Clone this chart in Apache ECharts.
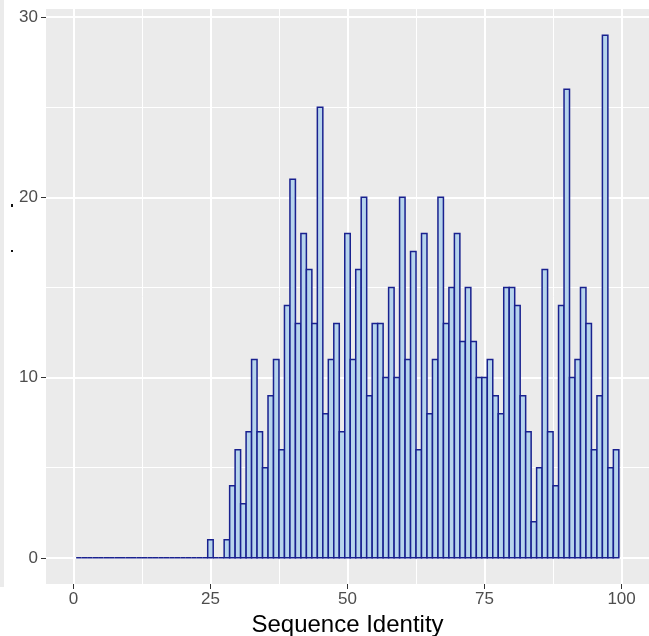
<!DOCTYPE html>
<html lang="en">
<head>
    <meta charset="UTF-8">
    <title>Sequence Identity</title>
    <style>
        html, body { margin: 0; padding: 0; background: #ffffff; }
        #container { width: 649px; height: 636px; }
    </style>
</head>
<body>
    <div id="container"></div>
    <script src="https://cdn.jsdelivr.net/npm/echarts@6/dist/echarts.min.js"></script>
    <script>
        // histogram bins (bin centre, width 1) and counts
        var identityBins = [
             1,  2,  3,  4,  5,  6,  7,  8,  9, 10,
            11, 12, 13, 14, 15, 16, 17, 18, 19, 20,
            21, 22, 23, 24, 25, 26, 27, 28, 29, 30,
            31, 32, 33, 34, 35, 36, 37, 38, 39, 40,
            41, 42, 43, 44, 45, 46, 47, 48, 49, 50,
            51, 52, 53, 54, 55, 56, 57, 58, 59, 60,
            61, 62, 63, 64, 65, 66, 67, 68, 69, 70,
            71, 72, 73, 74, 75, 76, 77, 78, 79, 80,
            81, 82, 83, 84, 85, 86, 87, 88, 89, 90,
            91, 92, 93, 94, 95, 96, 97, 98, 99
        ];
        var binCounts = [
             0,  0,  0,  0,  0,  0,  0,  0,  0,  0,
             0,  0,  0,  0,  0,  0,  0,  0,  0,  0,
             0,  0,  0,  0,  1,  0,  0,  1,  4,  6,
             3,  7, 11,  7,  5,  9, 11,  6, 14, 21,
            13, 18, 16, 13, 25,  8, 11, 13,  7, 18,
            11, 16, 20,  9, 13, 13, 10, 15, 10, 20,
            11, 17,  6, 18,  8, 11, 20, 13, 15, 18,
            12, 15, 12, 10, 10, 11,  9,  8, 15, 15,
            14,  9,  7,  2,  5, 16,  7,  4, 14, 26,
            10, 11, 15, 13,  6,  9, 29,  5,  6
        ];
        var binWidth = 1;
        var xTicks = [0, 25, 50, 75, 100];
        var xMinor = [12.5, 37.5, 62.5, 87.5];
        var yTicks = [0, 10, 20, 30];
        var yMinor = [5, 15, 25];

        var myChart = echarts.init(document.getElementById('container'));
        var fontFamily = '"Liberation Sans", Arial, sans-serif';
        var points = identityBins.map(function (b, i) { return [b, binCounts[i]]; });

        var xRange = { min: -5, max: 105 };
        var yRange = { min: -1.45, max: 30.45 };

        function renderBin(params, api) {
            var x = api.value(0);
            var y = api.value(1);
            var p0 = api.coord([x - binWidth / 2, 0]);
            var p1 = api.coord([x + binWidth / 2, y]);
            return {
                type: 'rect',
                shape: {
                    x: p0[0],
                    y: p1[1],
                    width: p1[0] - p0[0],
                    height: p0[1] - p1[1]
                },
                style: {
                    fill: '#b6d4ec',
                    stroke: '#19218f',
                    lineWidth: 1.5
                }
            };
        }

        var option = {
            backgroundColor: '#ffffff',
            animation: false,
            textStyle: { fontFamily: fontFamily },
            graphic: [
                // sliver of the neighbouring panel on the far left
                { type: 'rect', left: 0, top: 0, shape: { width: 4, height: 587 },
                  style: { fill: '#ebebeb' }, silent: true },
                { type: 'rect', left: 11, top: 204, shape: { width: 2, height: 3 },
                  style: { fill: '#111' }, silent: true },
                { type: 'rect', left: 11, top: 250, shape: { width: 2, height: 2 },
                  style: { fill: '#111' }, silent: true }
            ],
            grid: {
                left: 46, right: 0, top: 9, bottom: 52,
                outerBoundsMode: 'none',
                containLabel: false,
                show: true, backgroundColor: '#ebebeb', borderWidth: 0
            },
            xAxis: [{
                type: 'value',
                min: xRange.min, max: xRange.max,
                name: 'Sequence Identity',
                nameLocation: 'middle',
                nameGap: 19,
                nameTextStyle: { fontSize: 24, color: '#000000', fontFamily: fontFamily },
                axisLine: { show: false, onZero: false },
                axisTick: { show: true, length: 5, customValues: xTicks,
                            lineStyle: { color: '#333333', width: 1 } },
                axisLabel: { customValues: xTicks, fontSize: 17, color: '#4d4d4d', margin: 7 },
                splitLine: { show: true, lineStyle: { color: '#ffffff', width: 2 } }
            }, {
                type: 'value',
                min: xRange.min, max: xRange.max,
                position: 'bottom',
                axisLine: { show: false, onZero: false },
                axisTick: { show: false, customValues: xMinor },
                axisLabel: { show: false, customValues: xMinor },
                splitLine: { show: true, lineStyle: { color: '#ffffff', width: 1 } }
            }],
            yAxis: [{
                type: 'value',
                min: yRange.min, max: yRange.max,
                axisLine: { show: false, onZero: false },
                axisTick: { show: true, length: 5, customValues: yTicks,
                            lineStyle: { color: '#333333', width: 1 } },
                axisLabel: { customValues: yTicks, fontSize: 17, color: '#4d4d4d', margin: 8 },
                splitLine: { show: true, lineStyle: { color: '#ffffff', width: 2 } }
            }, {
                type: 'value',
                min: yRange.min, max: yRange.max,
                position: 'left',
                axisLine: { show: false, onZero: false },
                axisTick: { show: false, customValues: yMinor },
                axisLabel: { show: false, customValues: yMinor },
                splitLine: { show: true, lineStyle: { color: '#ffffff', width: 1 } }
            }],
            series: [{
                type: 'custom',
                xAxisIndex: 0,
                yAxisIndex: 0,
                data: points,
                renderItem: renderBin,
                encode: { x: 0, y: 1 },
                silent: true
            }]
        };
        myChart.setOption(option);
    </script>
</body>
</html>
